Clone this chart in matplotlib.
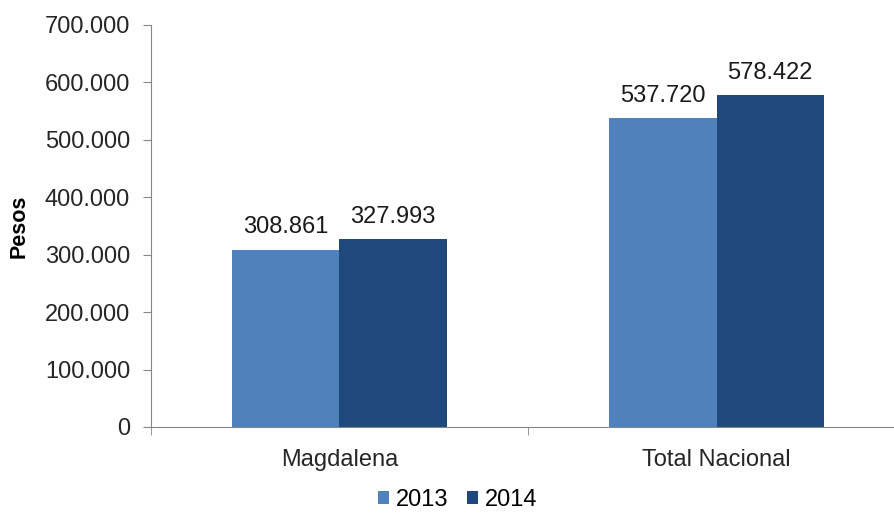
import matplotlib.pyplot as plt
import numpy as np

categories = ["Magdalena", "Total Nacional"]
years = ["2013", "2014"]
values_2013 = [308861, 537720]
values_2014 = [327993, 578422]
y_ticks = [0, 100000, 200000, 300000, 400000, 500000, 600000, 700000]

colors = ["#4F81BD", "#1F497D"]
plt.rcParams["font.family"] = ["Liberation Sans", "DejaVu Sans"]


def fmt(v):
    return f"{v:,.0f}".replace(",", ".")


fig = plt.figure(figsize=(8.95, 5.14), dpi=100)
ax = fig.add_axes([0.1687, 0.1693, 0.8425, 0.7821])

x = np.arange(len(categories))
width = 0.284
series = [values_2013, values_2014]
for i, (vals, year) in enumerate(zip(series, years)):
    pos = x + (i - 0.5) * width
    bars = ax.bar(pos, vals, width, color=colors[i], label=year)
    for b, v in zip(bars, vals):
        ax.annotate(fmt(v), (b.get_x() + b.get_width() / 2, v),
                    xytext=(0, 8), textcoords="offset points",
                    ha="center", va="bottom", fontsize=17, color="#1a1a1a")

ax.set_xlim(-0.5, len(categories) - 0.5)
ax.set_ylim(0, 700000)
ax.set_yticks(y_ticks)
ax.set_yticklabels([fmt(v) for v in y_ticks])
ax.set_xticks(x)
ax.set_xticklabels(categories)
ax.set_xticks([-0.5, 0.5, 1.5], minor=True)
ax.tick_params(axis="x", which="major", length=0, pad=15.5)
ax.tick_params(axis="x", which="minor", length=6, color="#868686")
ax.tick_params(axis="y", length=6, color="#868686", pad=9)
ax.tick_params(labelsize=17, labelcolor="#262626")

for s in ["top", "right"]:
    ax.spines[s].set_visible(False)
for s in ["left", "bottom"]:
    ax.spines[s].set_color("#868686")

ax.set_ylabel("Pesos", fontsize=15.5, fontweight="bold", labelpad=11)

ax.legend(loc="center", bbox_to_anchor=(0.407, -0.181), ncol=2,
          frameon=False, fontsize=17, handlelength=0.45, handleheight=0.45,
          handletextpad=0.3, columnspacing=0.8)

fig.savefig("out.png", dpi=100)
